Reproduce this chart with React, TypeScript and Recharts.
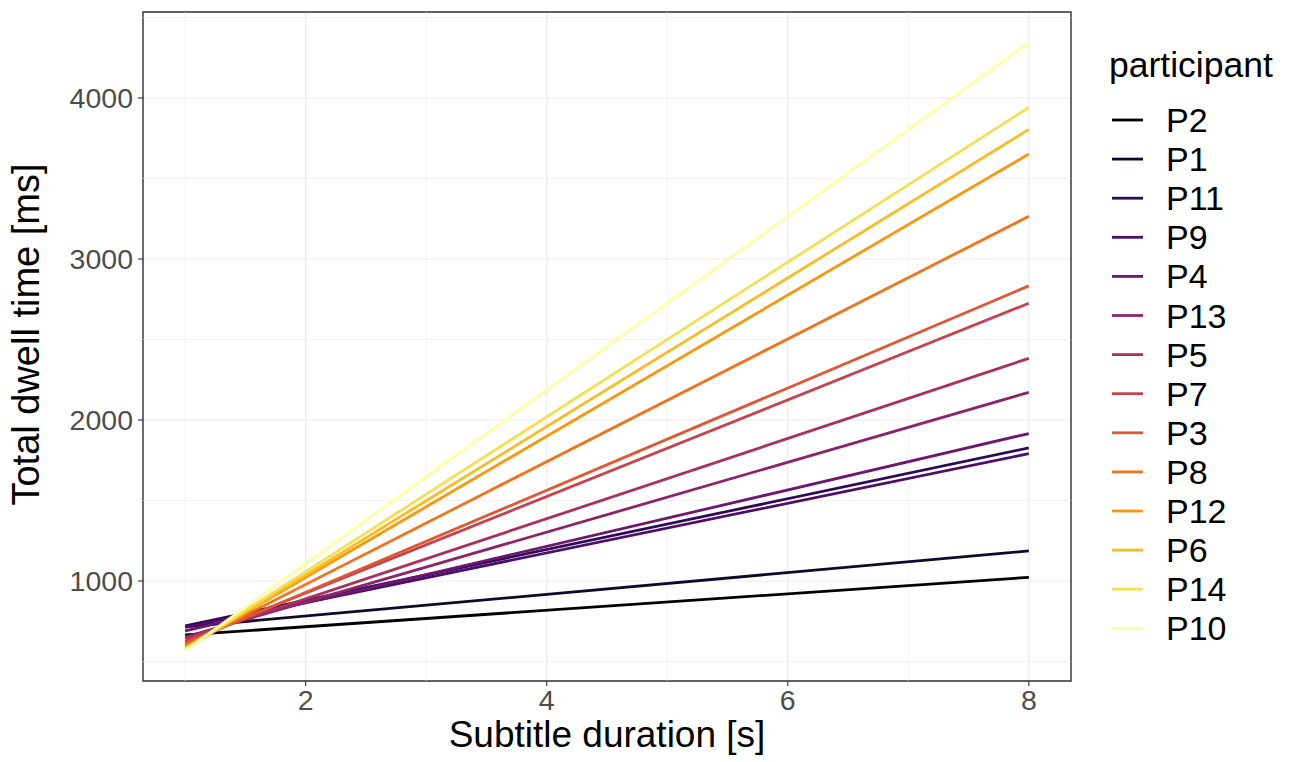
import React from "react";
import {
  LineChart,
  Line,
  XAxis,
  YAxis,
  CartesianGrid,
  ReferenceLine,
  ReferenceArea,
  Label,
} from "recharts";

// Participants in legend (draw) order
const participants = ["P2", "P1", "P11", "P9", "P4", "P13", "P5", "P7", "P3", "P8", "P12", "P6", "P14", "P10"];
const colors = [
  "#000004", "#0F092C", "#2D0B57", "#4E0D6B", "#6D186E", "#8D2469", "#AC305C",
  "#C8404B", "#E05734", "#F1741D", "#FA970A", "#FABC22", "#F4E055", "#FCFFA4",
];
// fitted dwell time at subtitle duration 1 s and 8 s
const durations = [1, 8];
const startValues = [665, 715, 722, 712, 690, 652, 640, 625, 612, 598, 585, 576, 578, 568];
const endValues = [1023, 1187, 1827, 1791, 1916, 2172, 2383, 2725, 2833, 3265, 3652, 3805, 3941, 4343];

const xTicks = [2, 4, 6, 8];
const xMinor = [1, 3, 5, 7];
const yTicks = [1000, 2000, 3000, 4000];
const yMinor = [500, 1500, 2500, 3500, 4500];
const xDomain = [0.65, 8.35];
const yDomain = [379, 4534];

const data = durations.map((d, i) => {
  const row: Record<string, number> = { x: d };
  participants.forEach((p, j) => {
    row[p] = i === 0 ? startValues[j] : endValues[j];
  });
  return row;
});

const FONT = "'Liberation Sans', Arial, Helvetica, sans-serif";

function LegendBox() {
  return (
    <svg
      width={190}
      height={640}
      style={{ position: "absolute", left: 1100, top: 40, fontFamily: FONT, display: "block" }}
    >
      <text x={9} y={37} fontSize={35.5} fill="#000000">participant</text>
      {participants.map((p, i) => {
        const cy = 80 + i * 39.1;
        return (
          <g key={p}>
            <line x1={12} x2={43} y1={cy} y2={cy} stroke={colors[i]} strokeWidth={2.8} />
            <text x={66} y={cy + 12} fontSize={34} fill="#000000">{p}</text>
          </g>
        );
      })}
    </svg>
  );
}

export default function App() {
  return (
    <div style={{ position: "absolute", left: 0, top: 0, width: 1290, height: 762, background: "#ffffff", fontFamily: FONT }}>
      <LineChart
        width={1290}
        height={762}
        data={data}
        margin={{ top: 12, right: 219, bottom: 0, left: 0 }}
      >
        {xMinor.map((v) => (
          <ReferenceLine key={"xm" + v} x={v} stroke="#EBEBEB" strokeWidth={0.6} />
        ))}
        {yMinor.map((v) => (
          <ReferenceLine key={"ym" + v} y={v} stroke="#EBEBEB" strokeWidth={0.6} ifOverflow="hidden" />
        ))}
        <CartesianGrid stroke="#EBEBEB" strokeWidth={1.2} />
        <XAxis
          dataKey="x"
          type="number"
          domain={xDomain}
          ticks={xTicks}
          allowDataOverflow
          height={81}
          axisLine={false}
          tickSize={5}
          tickMargin={4}
          tickLine={{ stroke: "#333333", strokeWidth: 1.1 }}
          tick={{ fill: "#4D4D4D", fontSize: 28.5, fontFamily: FONT }}
        >
          <Label
            value="Subtitle duration [s]"
            position="insideBottom"
            offset={15}
            style={{ fill: "#000000", fontSize: 37, fontFamily: FONT }}
          />
        </XAxis>
        <YAxis
          type="number"
          domain={yDomain}
          ticks={yTicks}
          allowDataOverflow
          width={143}
          axisLine={false}
          tickSize={5}
          tickMargin={5}
          tickLine={{ stroke: "#333333", strokeWidth: 1.1 }}
          tick={{ fill: "#4D4D4D", fontSize: 28.5, fontFamily: FONT }}
        >
          <Label
            content={(props: any) => {
              const vb = props.viewBox || { x: 0, y: 12, width: 143, height: 669 };
              const cx = 39;
              const cy = vb.y + vb.height / 2 - 12;
              return (
                <text
                  x={cx}
                  y={cy}
                  transform={`rotate(-90 ${cx} ${cy})`}
                  textAnchor="middle"
                  fontSize={38}
                  fill="#000000"
                  fontFamily={FONT}
                >
                  Total dwell time [ms]
                </text>
              );
            }}
          />
        </YAxis>
        {participants.map((p, i) => (
          <Line
            key={p}
            type="linear"
            dataKey={p}
            stroke={colors[i]}
            strokeWidth={2.8}
            dot={false}
            activeDot={false}
            isAnimationActive={false}
          />
        ))}
        <ReferenceArea
          x1={xDomain[0]}
          x2={xDomain[1]}
          y1={yDomain[0]}
          y2={yDomain[1]}
          fill="none"
          fillOpacity={0}
          stroke="#333333"
          strokeWidth={1.4}
          ifOverflow="visible"
        />
      </LineChart>
      <LegendBox />
    </div>
  );
}
